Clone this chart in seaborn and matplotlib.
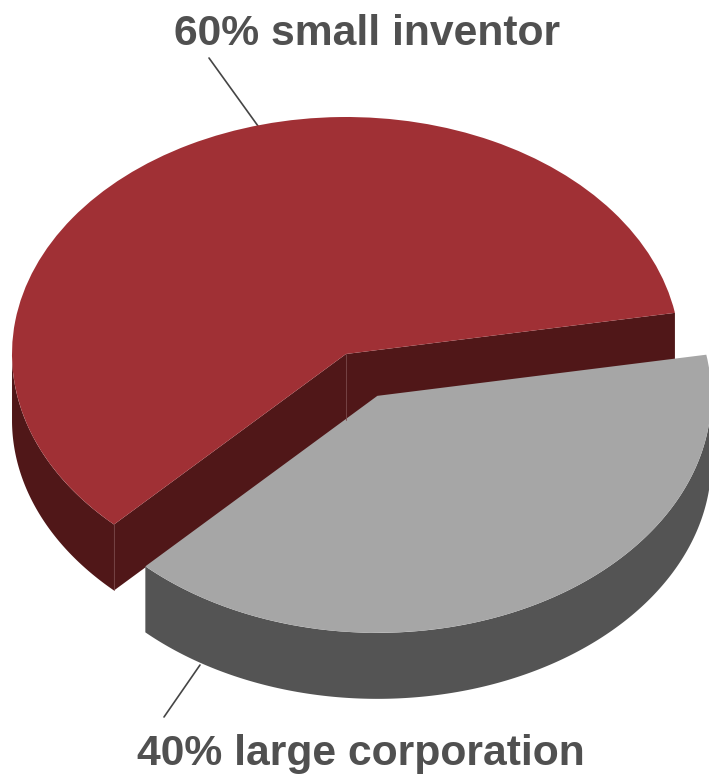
import numpy as np
import matplotlib
matplotlib.use("Agg")
import matplotlib.pyplot as plt
from matplotlib.patches import Polygon
import seaborn as sns

# Share of inventions by type of inventor
labels = ["60% small inventor", "40% large corporation"]
shares = [60, 40]
top_colors = ["#A03035", "#A6A6A6"]
side_colors = ["#501718", "#545454"]

sns.set_theme(style="white")
plt.rcParams["font.family"] = ["Liberation Sans", "DejaVu Sans"]

W, H = 709, 775
fig = plt.figure(figsize=(W / 100, H / 100), dpi=100)
ax = fig.add_axes([0, 0, 1, 1])

START = 10.0
EXPLODE = [0.0, 0.2]
DEPTH = 66 / 237

spans = np.array(shares) / sum(shares) * 360
edges = START + np.concatenate([[0], np.cumsum(spans)])


def side_wall(a0, a1, cx, cy):
    """Outer rim of a slice between two angles, limited to the front half."""
    t = np.radians(np.linspace(a0, a1, 400))
    t = t[np.sin(t) <= 0]
    x, y = cx + np.cos(t), cy + np.sin(t)
    return np.r_[x, x[::-1]], np.r_[y, y[::-1] - DEPTH]


def cut_face(angle, cx, cy):
    """Flat face running from the pie centre to the rim at one angle."""
    t = np.radians(angle)
    ex, ey = cx + np.cos(t), cy + np.sin(t)
    return [(cx, cy), (ex, ey), (ex, ey - DEPTH), (cx, cy - DEPTH)]


# Side walls go in first so the pie top covers their upper edges
for i, (a0, a1) in enumerate(zip(edges[:-1], edges[1:])):
    mid = np.radians((a0 + a1) / 2)
    cx, cy = EXPLODE[i] * np.cos(mid), EXPLODE[i] * np.sin(mid)
    xs, ys = side_wall(a0, a1, cx, cy)
    ax.fill(xs, ys, color=side_colors[i], lw=0, zorder=1)
    if i == 0:
        for a in (a0, a1):
            ax.add_patch(Polygon(cut_face(a, cx, cy), color=side_colors[i], lw=0, zorder=1))

ax.pie(shares, startangle=START, colors=top_colors, explode=EXPLODE, radius=1,
       counterclock=True, wedgeprops={"linewidth": 0})
for wedge in ax.patches:
    if wedge.get_zorder() != 1:
        wedge.set_zorder(2)

# Flattening the axes turns the round pie into its tilted ellipse
ax.set_aspect("auto")
ax.set_xlim(-346 / 334, 363 / 334)
ax.set_ylim(-421 / 237, 354 / 237)
ax.axis("off")

# Fine seams where the dark red faces meet
corner = np.radians(edges[1])
seam_x = [0, np.cos(corner)]
seam_y = [0, np.sin(corner)]
for sx, sy in zip(seam_x, seam_y):
    ax.plot([sx, sx], [sy, sy - DEPTH], color="#7A4A4B", lw=0.6, zorder=1.5)

# Data labels with their leader lines
txt = "#505050"
line = "#454545"
fig.text(367 / 709, 1 - 45 / 775, labels[0], ha="center", va="baseline",
         fontsize=30.7, fontweight="bold", color=txt)
fig.text(360.5 / 709, 1 - 765.5 / 775, labels[1], ha="center", va="baseline",
         fontsize=30.7, fontweight="bold", color=txt)
ax.plot([-137 / 334, -88 / 334], [296 / 237, 228 / 237], color=line, lw=1.2, zorder=0.5)
ax.plot([-182 / 334, -146 / 334], [-363 / 237, -311 / 237], color=line, lw=1.2, zorder=0.5)

fig.savefig("out.png", dpi=100, facecolor="white")
